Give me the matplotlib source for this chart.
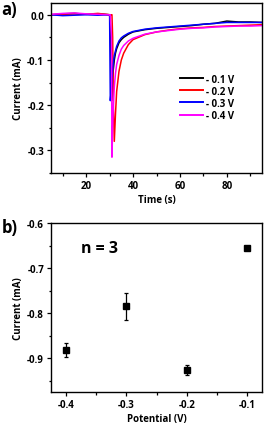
import matplotlib.pyplot as plt
from matplotlib.ticker import MultipleLocator

plt.rcParams['font.family'] = ['Open Sans', 'DejaVu Sans']
plt.rcParams['font.weight'] = 'bold'
plt.rcParams['axes.unicode_minus'] = False

# panel a: chronoamperometry traces
t_base = [5, 10, 15, 20, 25, 30]
t = t_base + [30.3, 30.8, 31.0, 31.3, 31.6, 32.0, 32.5, 33, 34, 35, 36, 38, 40, 45, 50, 55, 60, 65, 70, 75, 80, 85, 90, 95]
i_01 = [0.0, 0.002, 0.003, 0.001, 0.002, 0.0,
        -0.02, -0.19, -0.17, -0.14, -0.12, -0.10, -0.085, -0.075, -0.062, -0.055, -0.05, -0.043, -0.038, -0.033, -0.03, -0.028, -0.026, -0.024, -0.021, -0.019, -0.014, -0.016, -0.016, -0.017]
i_02 = [0.0, 0.001, 0.002, 0.001, 0.003, 0.0,
        0.0, 0.0, 0.0, -0.05, -0.2, -0.28, -0.22, -0.17, -0.125, -0.1, -0.085, -0.066, -0.055, -0.044, -0.038, -0.034, -0.031, -0.029, -0.028, -0.026, -0.025, -0.024, -0.023, -0.022]
i_03 = [0.0, -0.002, -0.001, 0.0, -0.001, 0.0,
        -0.19, -0.16, -0.14, -0.12, -0.105, -0.09, -0.08, -0.07, -0.058, -0.051, -0.047, -0.041, -0.037, -0.032, -0.029, -0.027, -0.025, -0.023, -0.021, -0.019, -0.017, -0.017, -0.017, -0.017]
i_04 = [0.001, 0.003, 0.004, 0.002, 0.001, 0.0,
        0.0, -0.05, -0.315, -0.25, -0.2, -0.16, -0.13, -0.11, -0.09, -0.076, -0.068, -0.058, -0.052, -0.043, -0.038, -0.035, -0.032, -0.03, -0.029, -0.027, -0.026, -0.025, -0.025, -0.024]
labels_a = ['- 0.1 V', '- 0.2 V', '- 0.3 V', '- 0.4 V']
colors_a = ['black', 'red', 'blue', 'magenta']

# panel b: mean current vs potential, n = 3
potential = [-0.4, -0.3, -0.2, -0.1]
current = [-0.882, -0.785, -0.926, -0.655]
current_err = [0.015, 0.03, 0.012, 0.004]

fig = plt.figure(figsize=(2.64, 4.27), dpi=100)
ax = fig.add_axes([51/264, 1-174/427, 211/264, 170/427])
ax2 = fig.add_axes([51/264, 1-393/427, 211/264, 169/427])

for y, lab, c in zip([i_01, i_02, i_03, i_04], labels_a, colors_a):
    ax.plot(t, y, color=c, lw=1.1, label=lab)
ax.set_xlim(5, 95)
ax.set_ylim(-0.35, 0.026)
ax.xaxis.set_major_locator(MultipleLocator(20))
ax.xaxis.set_minor_locator(MultipleLocator(10))
ax.yaxis.set_major_locator(MultipleLocator(0.1))
ax.yaxis.set_minor_locator(MultipleLocator(0.05))
ax.set_xlabel('Time (s)', fontsize=7, fontweight='bold', labelpad=2)
ax.set_ylabel('Current (mA)', fontsize=7, fontweight='bold', labelpad=2)
leg = ax.legend(loc='upper left', bbox_to_anchor=(0.61, 0.585), frameon=False, fontsize=7,
                handlelength=2.4, handletextpad=0.3, labelspacing=0.12,
                borderpad=0, borderaxespad=0)
for h in leg.get_lines():
    h.set_linewidth(1.4)

ax2.errorbar(potential, current, yerr=current_err, fmt='s', color='black', ms=4.5,
             capsize=1.5, elinewidth=0.9, capthick=0.9)
ax2.set_xlim(-0.425, -0.075)
ax2.set_ylim(-0.975, -0.6)
ax2.xaxis.set_major_locator(MultipleLocator(0.1))
ax2.xaxis.set_minor_locator(MultipleLocator(0.05))
ax2.yaxis.set_major_locator(MultipleLocator(0.1))
ax2.yaxis.set_minor_locator(MultipleLocator(0.05))
ax2.set_xlabel('Potential (V)', fontsize=7, fontweight='bold', labelpad=2)
ax2.set_ylabel('Current (mA)', fontsize=7, fontweight='bold', labelpad=2)
ax2.text(0.14, 0.83, 'n = 3', transform=ax2.transAxes, fontsize=11.5, fontweight='bold')

for a in (ax, ax2):
    for s in a.spines.values():
        s.set_linewidth(1.0)
    a.tick_params(which='both', direction='out', top=False, right=False, labelsize=7, width=0.9, pad=2)
    a.tick_params(which='major', length=3)
    a.tick_params(which='minor', length=1.8)
    for lbl in a.get_xticklabels() + a.get_yticklabels():
        lbl.set_fontweight('bold')

fig.text(0.005, 0.965, 'a)', fontsize=12, fontweight='bold')
fig.text(0.005, 0.455, 'b)', fontsize=12, fontweight='bold')

fig.savefig('out.png', dpi=100)
